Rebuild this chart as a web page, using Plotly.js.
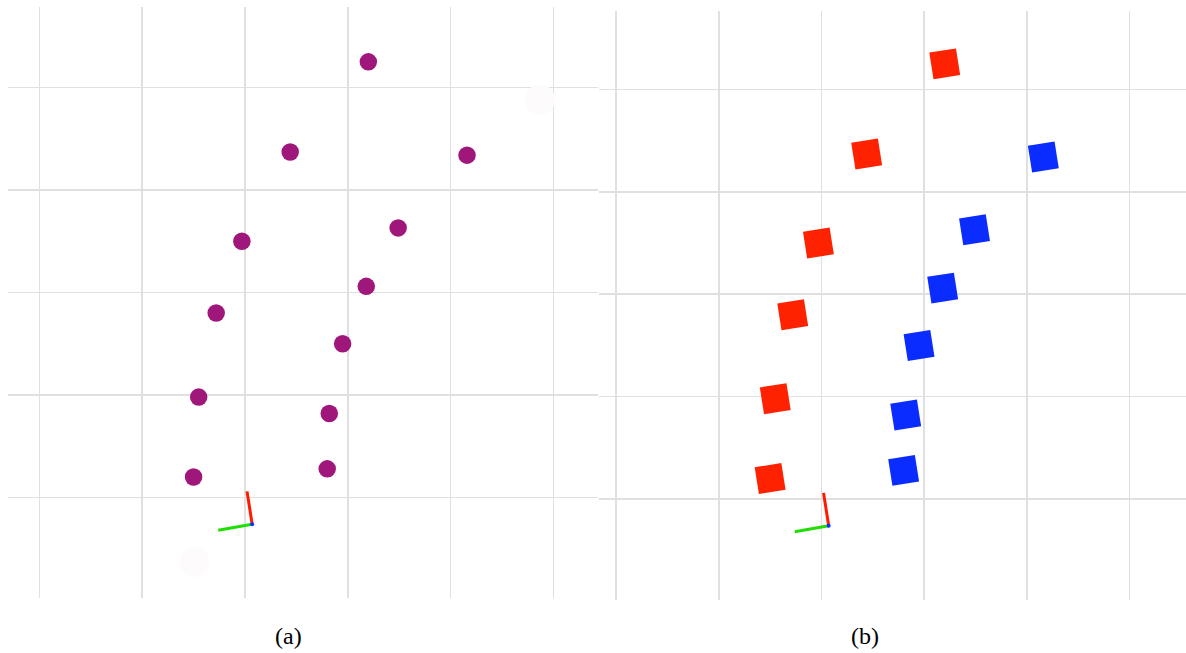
<!DOCTYPE html>
<html>
<head>
<meta charset="utf-8">
<script src="https://cdn.plot.ly/plotly-3.0.1.min.js"></script>
<style>html,body{margin:0;padding:0;background:#fff;}#chart{width:1186px;height:653px;}</style>
</head>
<body>
<div id="chart"></div>
<script>
// Landmark positions (grid units), left row and right row
const leftX  = [1.20, 0.44, -0.03, -0.28, -0.45, -0.50];
const leftY  = [4.25, 3.37, 2.50, 1.80, 0.98, 0.20];
const rightX = [2.16, 1.49, 1.18, 0.95, 0.82, 0.80];
const rightY = [3.34, 2.63, 2.06, 1.50, 0.82, 0.28];

// Robot frame (origin, x-axis tip, y-axis tip)
const frameOrigin = [0.07, -0.26];
const frameXTip   = [0.02, 0.06];
const frameYTip   = [-0.26, -0.32];

// faint ghost blobs in panel (a)
const ghostX = [-0.49, 2.87];
const ghostY = [-0.63, 3.88];

const panelLabels = ['(a)', '(b)'];

const traces = [];
const panels = [
  {xa: 'x', ya: 'y'},
  {xa: 'x2', ya: 'y2'}
];

// Panel a: ghost blobs
traces.push({x: ghostX, y: ghostY, xaxis: 'x', yaxis: 'y', mode: 'markers', type: 'scatter',
  marker: {size: 30, color: '#fefbfd'}, hoverinfo: 'skip', showlegend: false});

// Panel a: all landmarks as purple circles
traces.push({x: leftX.concat(rightX), y: leftY.concat(rightY), xaxis: 'x', yaxis: 'y',
  mode: 'markers', type: 'scatter', marker: {size: 17.5, color: '#a0177c'}, showlegend: false});

// Panel b: left row red squares, right row blue squares
traces.push({x: leftX, y: leftY, xaxis: 'x2', yaxis: 'y2', mode: 'markers', type: 'scatter',
  marker: {symbol: 'square', size: 27, angle: -9, color: '#ff2200'}, showlegend: false});
traces.push({x: rightX, y: rightY, xaxis: 'x2', yaxis: 'y2', mode: 'markers', type: 'scatter',
  marker: {symbol: 'square', size: 27, angle: -9, color: '#0a2cff'}, showlegend: false});

// Robot frame in both panels
panels.forEach(p => {
  traces.push({x: [frameOrigin[0], frameXTip[0]], y: [frameOrigin[1], frameXTip[1]],
    xaxis: p.xa, yaxis: p.ya, mode: 'lines', type: 'scatter',
    line: {color: '#ff1a00', width: 3}, showlegend: false});
  traces.push({x: [frameOrigin[0], frameYTip[0]], y: [frameOrigin[1], frameYTip[1]],
    xaxis: p.xa, yaxis: p.ya, mode: 'lines', type: 'scatter',
    line: {color: '#22dd00', width: 3}, showlegend: false});
  traces.push({x: [frameOrigin[0]], y: [frameOrigin[1]], xaxis: p.xa, yaxis: p.ya,
    mode: 'markers', type: 'scatter', marker: {size: 4, color: '#1030ff'}, showlegend: false});
});

const gridAxis = (range, domain) => ({
  range: range, domain: domain, tick0: 0, dtick: 1, showgrid: true,
  gridcolor: '#e0e0e0', gridwidth: 1.5, zeroline: false, showticklabels: false,
  ticks: '', showline: false, fixedrange: true
});

const W = 1186, H = 653;
const labelFont = {family: 'Liberation Serif, Times New Roman, serif', size: 24, color: '#000'};
const layout = {
  width: W, height: H,
  margin: {l: 0, r: 0, t: 0, b: 0},
  paper_bgcolor: '#ffffff', plot_bgcolor: '#ffffff',
  xaxis: Object.assign(gridAxis([-2.305, 3.434], [8 / W, 598 / W]), {anchor: 'y'}),
  yaxis: Object.assign(gridAxis([-0.980, 4.785], [1 - 598 / H, 1 - 7 / H]), {anchor: 'x'}),
  xaxis2: Object.assign(gridAxis([-2.166, 3.549], [599 / W, 1]), {anchor: 'y2'}),
  yaxis2: Object.assign(gridAxis([-0.986, 4.766], [1 - 600 / H, 1 - 11 / H]), {anchor: 'x2'}),
  annotations: [
    {text: panelLabels[0], xref: 'paper', yref: 'paper', x: 288 / W, y: 1 - 636 / H,
     xanchor: 'center', yanchor: 'middle', showarrow: false, font: labelFont},
    {text: panelLabels[1], xref: 'paper', yref: 'paper', x: 865 / W, y: 1 - 636 / H,
     xanchor: 'center', yanchor: 'middle', showarrow: false, font: labelFont}
  ]
};

Plotly.newPlot('chart', traces, layout, {displayModeBar: false, staticPlot: true});
</script>
</body>
</html>
